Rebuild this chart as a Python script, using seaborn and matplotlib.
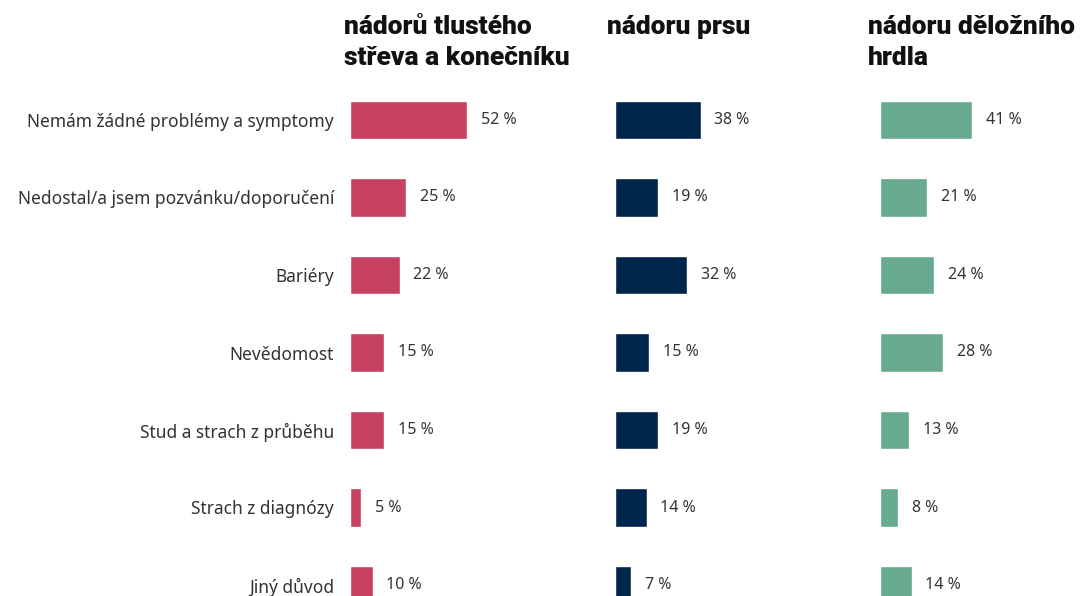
import numpy as np
import matplotlib
matplotlib.use('Agg')
import matplotlib.pyplot as plt
import pandas as pd
import seaborn as sns

# data
categories = ['Nemám žádné problémy a symptomy',
              'Nedostal/a jsem pozvánku/doporučení',
              'Bariéry',
              'Nevědomost',
              'Stud a strach z průběhu',
              'Strach z diagnózy',
              'Jiný důvod']
titles = ['nádorů tlustého\nstřeva a konečníku', 'nádoru prsu', 'nádoru děložního\nhrdla']
colorectal = [52, 25, 22, 15, 15, 5, 10]
breast = [38, 19, 32, 15, 19, 14, 7]
cervical = [41, 21, 24, 28, 13, 8, 14]
colors = ['#C6415F', '#00254A', '#67AA8E']

df = pd.DataFrame({'reason': categories,
                   titles[0]: colorectal,
                   titles[1]: breast,
                   titles[2]: cervical})

sns.set_style('white')
plt.rcParams['font.family'] = ['Noto Sans', 'DejaVu Sans']

W, H = 1080, 596
fig = plt.figure(figsize=(W / 100, H / 100), dpi=100)

# panel geometry in pixels
panel_x = [350, 615, 880]
panel_w = 190
px_per_pct = 2.25
row0, row_step = 120, 77.5
top_px = 90
ylim_top = (top_px - row0) / row_step
ylim_bot = (H - row0) / row_step
title_x = [344, 607, 868]

for i, (t, c) in enumerate(zip(titles, colors)):
    ax = fig.add_axes([panel_x[i] / W, 0, panel_w / W, (H - top_px) / H])
    sns.barplot(data=df, x=t, y='reason', color=c, width=0.5, ax=ax,
                saturation=1, orient='h')
    ax.set_xlim(0, panel_w / px_per_pct)
    ax.set_ylim(ylim_bot, ylim_top)
    ax.bar_label(ax.containers[0], fmt='%.0f %%', padding=10,
                 fontsize=11.5, color='#333333')
    for s in ax.spines.values():
        s.set_visible(False)
    ax.set_xticks([])
    ax.set_xlabel('')
    ax.set_ylabel('')
    ax.tick_params(axis='y', length=0, pad=11.5, labelsize=12.5, labelcolor='#333333')
    if i > 0:
        ax.set_yticklabels([])
    ax.patch.set_alpha(0)
    fig.text(title_x[i] / W, 1 - 15 / H, t, ha='left', va='top',
             fontsize=19, fontweight='heavy', family=['Roboto', 'DejaVu Sans'],
             color='#111111', linespacing=1.38)

fig.savefig('out.png', dpi=100)
